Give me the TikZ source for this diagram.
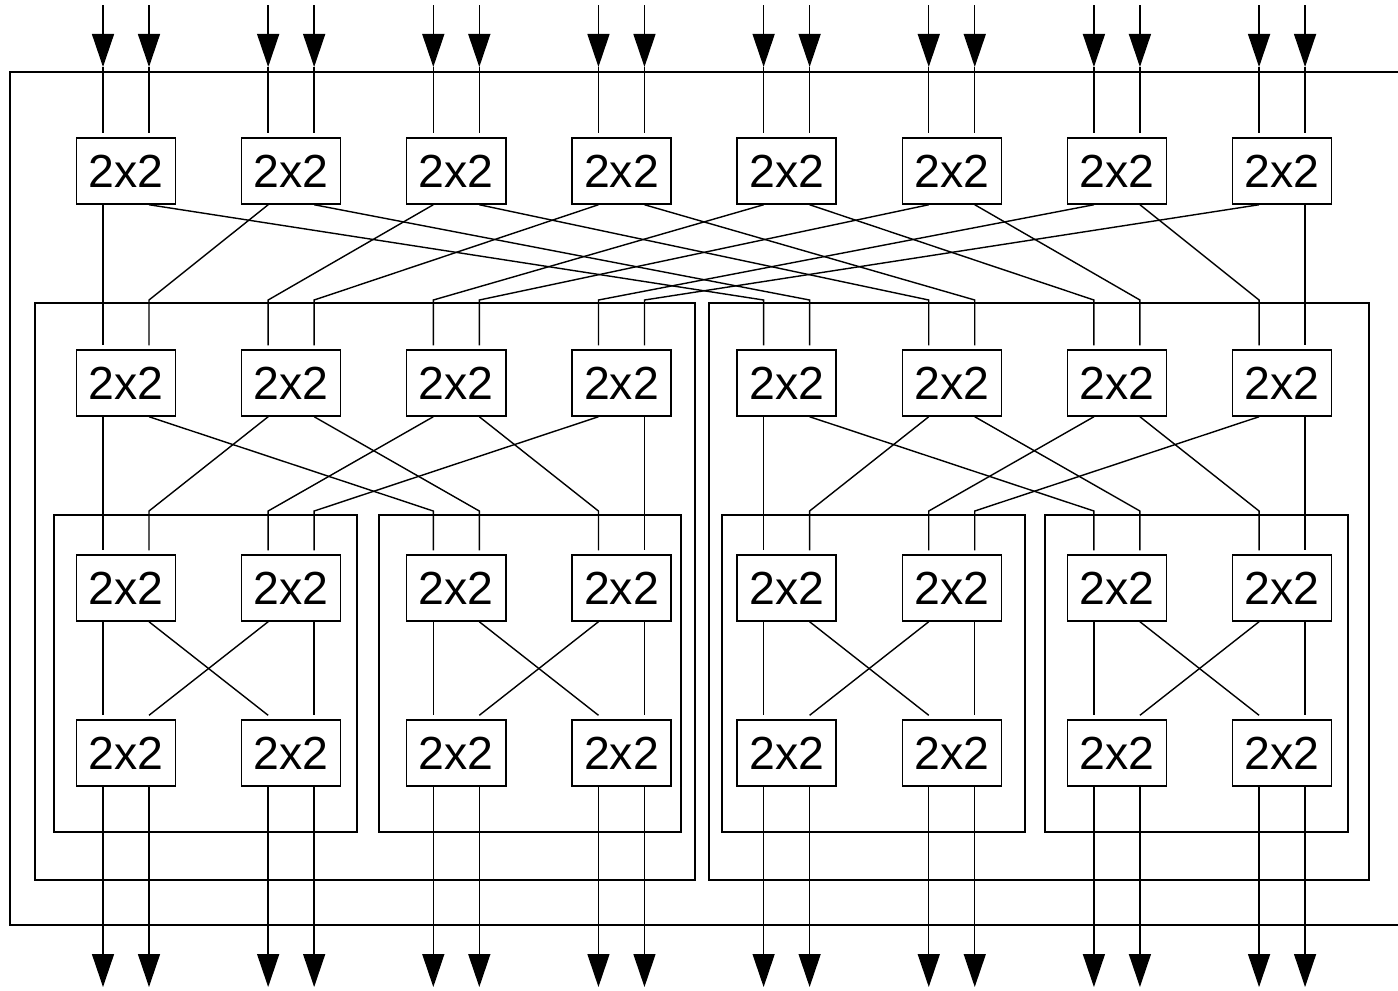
\documentclass[tikz,border=0pt]{standalone}
\usepackage{fontspec}
\setmainfont{Liberation Sans}
\usetikzlibrary{arrows.meta}
\tikzset{
  sw/.style={draw,minimum width=0.99cm,minimum height=0.66cm,inner sep=0pt,font=\fontsize{13.2}{15}\selectfont},
  io/.style={-{Triangle[width=2.2mm,length=3.3mm]}}
}
\begin{document}
\begin{tikzpicture}[x=0.01cm,y=-0.01cm,line width=0.4pt]
			
			\def\dx{165.15}
			\def\xo{126}
			\useasboundingbox (0,0) rectangle (1398,990);
			% frames
			\draw (10,72) rectangle (1420,925);
			\draw (35,303) rectangle (695,880);
			\draw (709,303) rectangle (1369,880);
			\draw (54,515) rectangle (357,832);
			\draw (379,515) rectangle (681,832);
			\draw (722,515) rectangle (1025,832);
			\draw (1045,515) rectangle (1348,832);
			% switches and their ports
			\foreach \i in {0,...,7}{
				\foreach \s/\y in {a/171,b/383,c/588,d/753}
					\node[sw] (\s\i) at ({\xo+\i*\dx},\y) {2x2};
				\foreach \j/\o in {0/-23,1/23}{
					\pgfmathtruncatemacro\k{2*\i+\j}
					\pgfmathsetmacro\px{\xo+\i*\dx+\o}
					\foreach \s in {a,b,c,d}{
						\coordinate (\s-in\k) at ([xshift=\o*0.01cm,yshift=0.04cm]\s\i.north);
						\coordinate (\s-out\k) at ([xshift=\o*0.01cm]\s\i.south);
					}
					\coordinate (src\k) at (\px,5);
					\coordinate (tip\k) at (\px,67);
					\coordinate (b-bend\k) at (\px,300);
					\coordinate (c-bend\k) at (\px,511);
					\coordinate (out\k) at (\px,987);
				}
			}
			% wires
			\foreach \k in {0,...,15}{
				\pgfmathtruncatemacro\ab{mod(\k,2)*8+div(\k,2)}
				\pgfmathtruncatemacro\bc{8*div(\k,8)+4*mod(\k,2)+div(mod(\k,8),2)}
				\pgfmathtruncatemacro\cd{4*div(\k,4)+2*mod(\k,2)+div(mod(\k,4),2)}
				\draw[io] (src\k) -- (tip\k);
				\draw (tip\k) -- (a-in\k);
				\draw (a-out\k) -- (b-bend\ab) -- (b-in\ab);
				\draw (b-out\k) -- (c-bend\bc) -- (c-in\bc);
				\draw (c-out\k) -- (d-in\cd);
				\draw[io] (d-out\k) -- (out\k);
			}
			
		\end{tikzpicture}
\end{document}
